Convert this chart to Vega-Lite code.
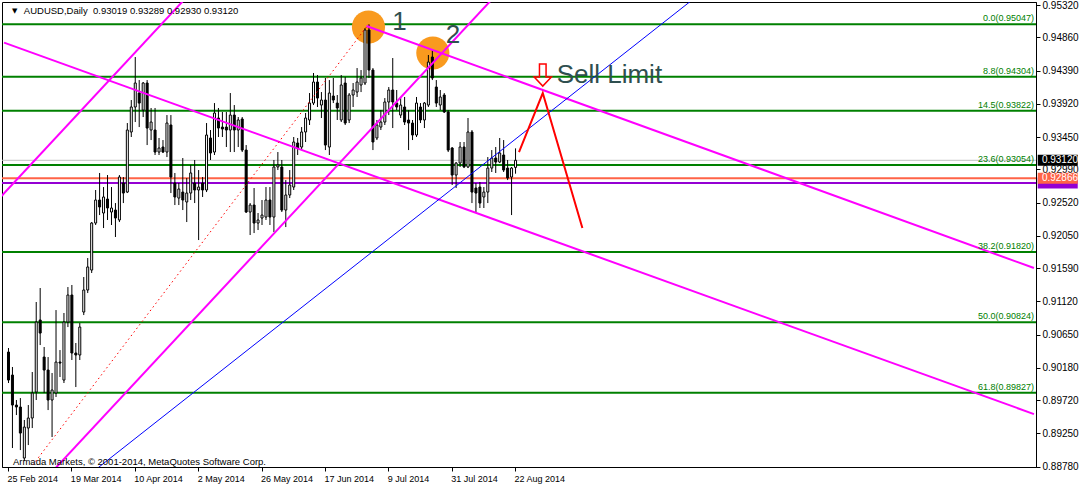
{
  "$schema": "https://vega.github.io/schema/vega-lite/v6.json",
  "width": 1034,
  "height": 465,
  "autosize": {"type": "none"},
  "padding": {"left": 2, "top": 2, "right": 43, "bottom": 22},
  "background": "white",
  "config": {"view": {"stroke": "black", "strokeWidth": 1}, "font": "Liberation Sans", "axis": {"labelOverlap": false, "labelSeparation": 0}},
  "datasets": {
    "candles": [
      {"i":0,"o":0.90403,"h":0.90460,"l":0.89964,"c":0.90006},
      {"i":1,"o":0.90077,"h":0.90191,"l":0.89043,"c":0.89652},
      {"i":2,"o":0.89652,"h":0.89723,"l":0.89510,"c":0.89624},
      {"i":3,"o":0.89624,"h":0.89751,"l":0.89014,"c":0.89255},
      {"i":4,"o":0.88901,"h":0.89440,"l":0.88859,"c":0.89340},
      {"i":5,"o":0.89326,"h":0.89652,"l":0.89085,"c":0.89468},
      {"i":6,"o":0.89468,"h":0.90120,"l":0.89326,"c":0.89822},
      {"i":7,"o":0.89836,"h":0.91112,"l":0.89723,"c":0.90828},
      {"i":8,"o":0.90857,"h":0.91310,"l":0.90502,"c":0.90672},
      {"i":9,"o":0.90332,"h":0.90474,"l":0.89822,"c":0.90148},
      {"i":10,"o":0.90148,"h":0.90332,"l":0.89581,"c":0.89723},
      {"i":11,"o":0.89723,"h":0.90106,"l":0.89199,"c":0.89865},
      {"i":12,"o":0.89822,"h":0.90998,"l":0.89766,"c":0.90261},
      {"i":13,"o":0.90261,"h":0.90431,"l":0.90049,"c":0.90247},
      {"i":14,"o":0.90006,"h":0.90956,"l":0.89964,"c":0.90828},
      {"i":15,"o":0.90828,"h":0.91324,"l":0.90757,"c":0.91211},
      {"i":16,"o":0.91211,"h":0.91353,"l":0.90290,"c":0.90389},
      {"i":17,"o":0.90389,"h":0.90531,"l":0.89907,"c":0.90361},
      {"i":18,"o":0.90361,"h":0.90814,"l":0.90290,"c":0.90757},
      {"i":19,"o":0.90970,"h":0.91466,"l":0.90927,"c":0.91282},
      {"i":20,"o":0.91282,"h":0.91735,"l":0.91239,"c":0.91608},
      {"i":21,"o":0.91565,"h":0.92245,"l":0.91523,"c":0.92231},
      {"i":22,"o":0.92231,"h":0.92699,"l":0.92203,"c":0.92557},
      {"i":23,"o":0.92557,"h":0.92940,"l":0.92344,"c":0.92458},
      {"i":24,"o":0.92373,"h":0.92741,"l":0.92160,"c":0.92600},
      {"i":25,"o":0.92571,"h":0.92911,"l":0.92274,"c":0.92444},
      {"i":26,"o":0.92387,"h":0.92741,"l":0.92203,"c":0.92444},
      {"i":27,"o":0.92415,"h":0.92514,"l":0.92033,"c":0.92302},
      {"i":28,"o":0.92274,"h":0.92911,"l":0.92245,"c":0.92883},
      {"i":29,"o":0.92798,"h":0.92883,"l":0.92514,"c":0.92656},
      {"i":30,"o":0.92670,"h":0.93648,"l":0.92656,"c":0.93549},
      {"i":31,"o":0.93521,"h":0.93974,"l":0.93450,"c":0.93875},
      {"i":32,"o":0.93875,"h":0.94583,"l":0.93662,"c":0.94215},
      {"i":33,"o":0.94073,"h":0.94257,"l":0.93591,"c":0.93931},
      {"i":34,"o":0.93832,"h":0.94229,"l":0.93733,"c":0.94215},
      {"i":35,"o":0.94215,"h":0.94257,"l":0.93336,"c":0.93577},
      {"i":36,"o":0.93549,"h":0.93861,"l":0.93407,"c":0.93662},
      {"i":37,"o":0.93549,"h":0.93861,"l":0.93195,"c":0.93237},
      {"i":38,"o":0.93237,"h":0.93436,"l":0.93195,"c":0.93294},
      {"i":39,"o":0.93308,"h":0.93407,"l":0.93223,"c":0.93237},
      {"i":40,"o":0.93237,"h":0.93761,"l":0.93166,"c":0.93648},
      {"i":41,"o":0.93620,"h":0.93761,"l":0.92656,"c":0.92883},
      {"i":42,"o":0.92798,"h":0.92940,"l":0.92486,"c":0.92600},
      {"i":43,"o":0.92585,"h":0.92798,"l":0.92486,"c":0.92713},
      {"i":44,"o":0.92670,"h":0.93152,"l":0.92415,"c":0.92557},
      {"i":45,"o":0.92529,"h":0.92869,"l":0.92245,"c":0.92656},
      {"i":46,"o":0.92656,"h":0.93053,"l":0.92557,"c":0.92940},
      {"i":47,"o":0.92798,"h":0.93124,"l":0.92514,"c":0.92699},
      {"i":48,"o":0.92699,"h":0.92982,"l":0.91990,"c":0.92741},
      {"i":49,"o":0.92798,"h":0.92883,"l":0.92600,"c":0.92699},
      {"i":50,"o":0.92699,"h":0.93648,"l":0.92670,"c":0.93478},
      {"i":51,"o":0.93436,"h":0.93549,"l":0.93124,"c":0.93223},
      {"i":52,"o":0.93237,"h":0.93931,"l":0.93195,"c":0.93790},
      {"i":53,"o":0.93719,"h":0.93861,"l":0.93450,"c":0.93577},
      {"i":54,"o":0.93591,"h":0.93804,"l":0.93450,"c":0.93563},
      {"i":55,"o":0.93591,"h":0.93804,"l":0.93308,"c":0.93549},
      {"i":56,"o":0.93549,"h":0.94073,"l":0.93237,"c":0.93761},
      {"i":57,"o":0.93761,"h":0.93903,"l":0.93237,"c":0.93549},
      {"i":58,"o":0.93549,"h":0.93733,"l":0.93308,"c":0.93691},
      {"i":59,"o":0.93705,"h":0.93733,"l":0.93237,"c":0.93265},
      {"i":60,"o":0.93265,"h":0.93336,"l":0.92373,"c":0.92387},
      {"i":61,"o":0.92387,"h":0.92514,"l":0.92061,"c":0.92486},
      {"i":62,"o":0.92486,"h":0.92727,"l":0.92089,"c":0.92231},
      {"i":63,"o":0.92231,"h":0.92373,"l":0.92132,"c":0.92274},
      {"i":64,"o":0.92302,"h":0.92557,"l":0.92203,"c":0.92344},
      {"i":65,"o":0.92316,"h":0.92741,"l":0.92274,"c":0.92557},
      {"i":66,"o":0.92557,"h":0.92741,"l":0.92203,"c":0.92316},
      {"i":67,"o":0.92316,"h":0.93124,"l":0.92104,"c":0.93025},
      {"i":68,"o":0.93025,"h":0.93237,"l":0.92982,"c":0.93053},
      {"i":69,"o":0.93025,"h":0.93124,"l":0.92387,"c":0.92415},
      {"i":70,"o":0.92415,"h":0.92840,"l":0.92174,"c":0.92628},
      {"i":71,"o":0.92628,"h":0.92982,"l":0.92585,"c":0.92770},
      {"i":72,"o":0.92741,"h":0.93450,"l":0.92699,"c":0.93379},
      {"i":73,"o":0.93365,"h":0.93436,"l":0.93195,"c":0.93294},
      {"i":74,"o":0.93308,"h":0.93591,"l":0.93265,"c":0.93521},
      {"i":75,"o":0.93521,"h":0.93790,"l":0.93379,"c":0.93719},
      {"i":76,"o":0.93691,"h":0.94073,"l":0.93620,"c":0.93931},
      {"i":77,"o":0.93931,"h":0.94357,"l":0.93903,"c":0.94229},
      {"i":78,"o":0.94229,"h":0.94328,"l":0.93875,"c":0.94002},
      {"i":79,"o":0.93903,"h":0.94087,"l":0.93719,"c":0.93974},
      {"i":80,"o":0.93974,"h":0.94286,"l":0.93265,"c":0.93336},
      {"i":81,"o":0.93308,"h":0.94257,"l":0.93195,"c":0.94073},
      {"i":82,"o":0.94031,"h":0.94286,"l":0.93931,"c":0.93974},
      {"i":83,"o":0.93931,"h":0.94045,"l":0.93691,"c":0.93861},
      {"i":84,"o":0.93691,"h":0.94328,"l":0.93662,"c":0.94187},
      {"i":85,"o":0.94215,"h":0.94300,"l":0.93620,"c":0.93648},
      {"i":86,"o":0.93691,"h":0.94073,"l":0.93648,"c":0.94045},
      {"i":87,"o":0.94045,"h":0.94215,"l":0.93875,"c":0.94116},
      {"i":88,"o":0.94087,"h":0.94427,"l":0.94017,"c":0.94229},
      {"i":89,"o":0.94187,"h":0.94399,"l":0.94087,"c":0.94286},
      {"i":90,"o":0.94215,"h":0.94994,"l":0.94187,"c":0.94966},
      {"i":91,"o":0.94966,"h":0.95047,"l":0.94286,"c":0.94399},
      {"i":92,"o":0.94399,"h":0.94427,"l":0.93265,"c":0.93379},
      {"i":93,"o":0.93436,"h":0.93691,"l":0.93407,"c":0.93620},
      {"i":94,"o":0.93591,"h":0.93832,"l":0.93549,"c":0.93662},
      {"i":95,"o":0.93662,"h":0.94002,"l":0.93620,"c":0.93946},
      {"i":96,"o":0.93946,"h":0.94158,"l":0.93761,"c":0.94116},
      {"i":97,"o":0.94116,"h":0.94569,"l":0.93577,"c":0.93946},
      {"i":98,"o":0.93931,"h":0.94116,"l":0.93832,"c":0.93875},
      {"i":99,"o":0.93761,"h":0.94017,"l":0.93719,"c":0.93903},
      {"i":100,"o":0.93875,"h":0.94017,"l":0.93620,"c":0.93662},
      {"i":101,"o":0.93691,"h":0.93832,"l":0.93265,"c":0.93648},
      {"i":102,"o":0.93648,"h":0.93691,"l":0.93407,"c":0.93478},
      {"i":103,"o":0.93478,"h":0.94017,"l":0.93450,"c":0.93931},
      {"i":104,"o":0.93875,"h":0.93931,"l":0.93648,"c":0.93691},
      {"i":105,"o":0.93691,"h":0.93946,"l":0.93577,"c":0.93931},
      {"i":106,"o":0.93903,"h":0.94612,"l":0.93875,"c":0.94512},
      {"i":107,"o":0.94583,"h":0.94682,"l":0.94257,"c":0.94286},
      {"i":108,"o":0.94158,"h":0.94257,"l":0.93875,"c":0.93931},
      {"i":109,"o":0.93903,"h":0.94116,"l":0.93832,"c":0.94017},
      {"i":110,"o":0.94045,"h":0.94073,"l":0.93790,"c":0.93804},
      {"i":111,"o":0.93804,"h":0.93832,"l":0.93237,"c":0.93265},
      {"i":112,"o":0.93294,"h":0.93308,"l":0.92770,"c":0.92911},
      {"i":113,"o":0.92911,"h":0.93095,"l":0.92727,"c":0.93081},
      {"i":114,"o":0.93081,"h":0.93379,"l":0.93025,"c":0.93308},
      {"i":115,"o":0.93308,"h":0.93379,"l":0.93010,"c":0.93025},
      {"i":116,"o":0.93025,"h":0.93719,"l":0.93010,"c":0.93521},
      {"i":117,"o":0.93521,"h":0.93549,"l":0.92514,"c":0.92670},
      {"i":118,"o":0.92727,"h":0.92798,"l":0.92387,"c":0.92656},
      {"i":119,"o":0.92741,"h":0.92812,"l":0.92444,"c":0.92514},
      {"i":120,"o":0.92600,"h":0.92741,"l":0.92444,"c":0.92670},
      {"i":121,"o":0.92670,"h":0.93166,"l":0.92514,"c":0.93010},
      {"i":122,"o":0.93010,"h":0.93265,"l":0.92954,"c":0.93152},
      {"i":123,"o":0.93152,"h":0.93308,"l":0.92940,"c":0.93095},
      {"i":124,"o":0.93095,"h":0.93436,"l":0.93081,"c":0.93223},
      {"i":125,"o":0.93195,"h":0.93407,"l":0.92954,"c":0.92982},
      {"i":126,"o":0.93010,"h":0.93124,"l":0.92840,"c":0.92869},
      {"i":127,"o":0.92883,"h":0.93025,"l":0.92344,"c":0.93010},
      {"i":128,"o":0.93019,"h":0.93289,"l":0.92930,"c":0.93120}
    ],
    "fib": [
      {"p":0.95047,"t":"0.0(0.95047)"},
      {"p":0.94304,"t":"8.8(0.94304)"},
      {"p":0.93822,"t":"14.5(0.93822)"},
      {"p":0.93054,"t":"23.6(0.93054)"},
      {"p":0.91820,"t":"38.2(0.91820)"},
      {"p":0.90824,"t":"50.0(0.90824)"},
      {"p":0.89827,"t":"61.8(0.89827)"}
    ],
    "magenta": [
      {"id":"lowerDown","k":0,"i":-1,"p":0.94788},
      {"id":"lowerDown","k":1,"i":259,"p":0.89524},
      {"id":"upperDown","k":0,"i":90.5,"p":0.95023},
      {"id":"upperDown","k":1,"i":259,"p":0.91593},
      {"id":"upA","k":0,"i":-3.25,"p":0.92517},
      {"id":"upA","k":1,"i":49.1,"p":0.95674},
      {"id":"upB","k":0,"i":6.85,"p":0.88448},
      {"id":"upB","k":1,"i":126.7,"p":0.95674}
    ],
    "blue": [
      {"k":0,"i":15.6,"p":0.88448},
      {"k":1,"i":179.1,"p":0.95674}
    ],
    "fibBase": [
      {"k":0,"i":1.45,"p":0.88448},
      {"k":1,"i":91,"p":0.95047}
    ],
    "path": [
      {"k":0,"i":129,"p":0.93237},
      {"k":1,"i":135,"p":0.94073},
      {"k":2,"i":145,"p":0.92160}
    ]
  },
  "layer": [
    {
      "data": {"name": "fib"},
      "mark": {"type": "rule", "color": "#008000", "strokeWidth": 2},
      "encoding": {
        "y": {"field": "p", "type": "quantitative", "title": null, "scale": {"domain": [0.88774, 0.95363], "nice": false, "zero": false},
          "axis": {"orient": "right", "title": null, "grid": false, "tickCount": 40,
            "values": [0.9532, 0.9486, 0.9439, 0.9392, 0.9345, 0.9299, 0.9252, 0.9205, 0.9159, 0.9112, 0.9065, 0.9018, 0.8972, 0.8925, 0.8878],
            "format": ".5f", "labelFont": "Liberation Sans", "labelFontSize": 10, "labelColor": "black",
            "labelAlign": "left", "labelBaseline": "middle", "labelPadding": 2, "tickSize": 4, "tickColor": "black",
            "domainColor": "black", "labelOverlap": false, "labelFlush": false, "labelSeparation": 0}}
      }
    },
    {
      "data": {"values": [{"p": 0.9312}]},
      "mark": {"type": "rule", "color": "#C0C0C0", "strokeWidth": 1},
      "encoding": {"y": {"field": "p", "type": "quantitative", "title": null, "scale": {"domain": [0.88774, 0.95363], "nice": false, "zero": false}}}
    },
    {
      "data": {"values": [{"p": 0.92866}]},
      "mark": {"type": "rule", "color": "#FF6347", "strokeWidth": 2},
      "encoding": {"y": {"field": "p", "type": "quantitative", "title": null, "scale": {"domain": [0.88774, 0.95363], "nice": false, "zero": false}}}
    },
    {
      "data": {"values": [{"p": 0.92800}]},
      "mark": {"type": "rule", "color": "#9400D3", "strokeWidth": 2},
      "encoding": {"y": {"field": "p", "type": "quantitative", "title": null, "scale": {"domain": [0.88774, 0.95363], "nice": false, "zero": false}}}
    },
    {
      "data": {"values": [{"i": 91, "p": 0.95008, "r": "1"}, {"i": 107.25, "p": 0.94640, "r": "2"}]},
      "mark": {"type": "point", "filled": true, "color": "#F99A1E", "opacity": 1, "size": 1100, "shape": "circle", "strokeWidth": 0},
      "encoding": {
        "x": {"field": "i", "type": "quantitative", "title": null, "scale": {"domain": [-0.25, 258.25], "nice": false, "zero": false}},
        "y": {"field": "p", "type": "quantitative", "title": null, "scale": {"domain": [0.88774, 0.95363], "nice": false, "zero": false}}
      }
    },
    {
      "data": {"name": "candles"},
      "mark": {"type": "rule", "color": "black", "strokeWidth": 1, "xOffset": 0.5},
      "encoding": {
        "x": {"field": "i", "type": "quantitative", "title": null, "scale": {"domain": [-0.25, 258.25], "nice": false, "zero": false},
          "axis": {"title": null, "grid": false, "tickCount": 40, "values": [0, 16, 32, 48, 64, 80, 96, 112, 128],
            "labelExpr": "['25 Feb 2014','19 Mar 2014','10 Apr 2014','2 May 2014','26 May 2014','17 Jun 2014','9 Jul 2014','31 Jul 2014','22 Aug 2014'][round(datum.value/16)]",
            "labelFont": "Liberation Sans", "labelFontSize": 9, "labelColor": "black", "labelAlign": "left", "labelBaseline": "top",
            "labelPadding": 3, "labelOffset": -1, "tickSize": 4, "tickColor": "black", "domainColor": "black",
            "labelOverlap": false, "labelFlush": false, "labelBound": false}},
        "y": {"field": "l", "type": "quantitative", "title": null, "scale": {"domain": [0.88774, 0.95363], "nice": false, "zero": false}},
        "y2": {"field": "h"}
      }
    },
    {
      "data": {"name": "candles"},
      "mark": {"type": "bar", "orient": "vertical", "size": 2, "stroke": "black", "strokeWidth": 1, "xOffset": 0.5, "fillOpacity": 1},
      "encoding": {
        "x": {"field": "i", "type": "quantitative", "title": null, "scale": {"domain": [-0.25, 258.25], "nice": false, "zero": false}},
        "y": {"field": "o", "type": "quantitative", "title": null, "scale": {"domain": [0.88774, 0.95363], "nice": false, "zero": false}},
        "y2": {"field": "c"},
        "fill": {"condition": {"test": "datum.c >= datum.o", "value": "white"}, "value": "black"}
      }
    },
    {
      "data": {"name": "magenta"},
      "mark": {"type": "line", "color": "#FF00FF", "strokeWidth": 2, "clip": true},
      "encoding": {
        "x": {"field": "i", "type": "quantitative", "title": null, "scale": {"domain": [-0.25, 258.25], "nice": false, "zero": false}},
        "y": {"field": "p", "type": "quantitative", "title": null, "scale": {"domain": [0.88774, 0.95363], "nice": false, "zero": false}},
        "detail": {"field": "id"},
        "order": {"field": "k"}
      }
    },
    {
      "data": {"name": "blue"},
      "mark": {"type": "line", "color": "#0000FF", "strokeWidth": 1, "clip": true},
      "encoding": {
        "x": {"field": "i", "type": "quantitative", "title": null, "scale": {"domain": [-0.25, 258.25], "nice": false, "zero": false}},
        "y": {"field": "p", "type": "quantitative", "title": null, "scale": {"domain": [0.88774, 0.95363], "nice": false, "zero": false}},
        "order": {"field": "k"}
      }
    },
    {
      "data": {"name": "fibBase"},
      "mark": {"type": "line", "color": "#FF0000", "strokeWidth": 1, "strokeDash": [1.5, 3], "clip": true},
      "encoding": {
        "x": {"field": "i", "type": "quantitative", "title": null, "scale": {"domain": [-0.25, 258.25], "nice": false, "zero": false}},
        "y": {"field": "p", "type": "quantitative", "title": null, "scale": {"domain": [0.88774, 0.95363], "nice": false, "zero": false}},
        "order": {"field": "k"}
      }
    },
    {
      "data": {"name": "path"},
      "mark": {"type": "line", "color": "#FF0000", "strokeWidth": 2, "clip": true},
      "encoding": {
        "x": {"field": "i", "type": "quantitative", "title": null, "scale": {"domain": [-0.25, 258.25], "nice": false, "zero": false}},
        "y": {"field": "p", "type": "quantitative", "title": null, "scale": {"domain": [0.88774, 0.95363], "nice": false, "zero": false}},
        "order": {"field": "k"}
      }
    },
    {
      "data": {"values": [{"i": 135, "p": 0.94328}]},
      "mark": {"type": "point", "filled": false, "stroke": "#FF0000", "strokeWidth": 1.5, "opacity": 1, "size": 484,
        "shape": "M-0.3,-1 L0.3,-1 L0.3,0.18 L0.78,0.18 L0,1 L-0.78,0.18 L-0.3,0.18 Z"},
      "encoding": {
        "x": {"field": "i", "type": "quantitative", "title": null, "scale": {"domain": [-0.25, 258.25], "nice": false, "zero": false}},
        "y": {"field": "p", "type": "quantitative", "title": null, "scale": {"domain": [0.88774, 0.95363], "nice": false, "zero": false}}
      }
    },
    {
      "data": {"values": [
        {"i": 97, "p": 0.94966, "t": "1"},
        {"i": 110.5, "p": 0.94782, "t": "2"},
        {"i": 138.5, "p": 0.94215, "t": "Sell Limit"}
      ]},
      "mark": {"type": "text", "align": "left", "baseline": "alphabetic", "font": "Liberation Sans", "fontSize": 26, "color": "#2F4F4F"},
      "encoding": {
        "x": {"field": "i", "type": "quantitative", "title": null, "scale": {"domain": [-0.25, 258.25], "nice": false, "zero": false}},
        "y": {"field": "p", "type": "quantitative", "title": null, "scale": {"domain": [0.88774, 0.95363], "nice": false, "zero": false}},
        "text": {"field": "t"}
      }
    },
    {
      "data": {"name": "fib"},
      "mark": {"type": "text", "align": "right", "baseline": "bottom", "dy": -1, "dx": 4, "font": "Liberation Sans", "fontSize": 9, "color": "#008000"},
      "encoding": {
        "x": {"datum": 258, "type": "quantitative", "title": null, "scale": {"domain": [-0.25, 258.25], "nice": false, "zero": false}},
        "y": {"field": "p", "type": "quantitative", "title": null, "scale": {"domain": [0.88774, 0.95363], "nice": false, "zero": false}},
        "text": {"field": "t"}
      }
    },
    {
      "data": {"values": [
        {"i": 4, "p": 0.95193, "t": "AUDUSD,Daily\u00a0 0.93019 0.93289 0.92930 0.93120"},
        {"i": 1.25, "p": 0.88802, "t": "Armada Markets, © 2001-2014, MetaQuotes Software Corp."}
      ]},
      "mark": {"type": "text", "align": "left", "baseline": "alphabetic", "font": "Liberation Sans", "fontSize": 9.5, "color": "black"},
      "encoding": {
        "x": {"field": "i", "type": "quantitative", "title": null, "scale": {"domain": [-0.25, 258.25], "nice": false, "zero": false}},
        "y": {"field": "p", "type": "quantitative", "title": null, "scale": {"domain": [0.88774, 0.95363], "nice": false, "zero": false}},
        "text": {"field": "t"}
      }
    },
    {
      "data": {"values": [{"i": 1, "p": 0.95207, "t": "▼"}]},
      "mark": {"type": "text", "align": "left", "baseline": "alphabetic", "font": "DejaVu Sans", "fontSize": 7, "color": "black"},
      "encoding": {
        "x": {"field": "i", "type": "quantitative", "title": null, "scale": {"domain": [-0.25, 258.25], "nice": false, "zero": false}},
        "y": {"field": "p", "type": "quantitative", "title": null, "scale": {"domain": [0.88774, 0.95363], "nice": false, "zero": false}},
        "text": {"field": "t"}
      }
    },
    {
      "data": {"values": [{"i": 265, "p": 0.92800}]},
      "mark": {"type": "point", "filled": true, "color": "#9400D3", "opacity": 1, "size": 1600, "strokeWidth": 0, "clip": false,
        "shape": "M-1,-0.275H1V0.275H-1Z"},
      "encoding": {
        "x": {"field": "i", "type": "quantitative", "title": null, "scale": {"domain": [-0.25, 258.25], "nice": false, "zero": false}},
        "y": {"field": "p", "type": "quantitative", "title": null, "scale": {"domain": [0.88774, 0.95363], "nice": false, "zero": false}}
      }
    },
    {
      "data": {"values": [{"i": 265, "p": 0.92866}]},
      "mark": {"type": "point", "filled": true, "color": "#FF6347", "opacity": 1, "size": 1600, "strokeWidth": 0, "clip": false,
        "shape": "M-1,-0.275H1V0.275H-1Z"},
      "encoding": {
        "x": {"field": "i", "type": "quantitative", "title": null, "scale": {"domain": [-0.25, 258.25], "nice": false, "zero": false}},
        "y": {"field": "p", "type": "quantitative", "title": null, "scale": {"domain": [0.88774, 0.95363], "nice": false, "zero": false}}
      }
    },
    {
      "data": {"values": [{"i": 265, "p": 0.93120}]},
      "mark": {"type": "point", "filled": true, "color": "black", "opacity": 1, "size": 1600, "strokeWidth": 0, "clip": false,
        "shape": "M-1,-0.275H1V0.275H-1Z"},
      "encoding": {
        "x": {"field": "i", "type": "quantitative", "title": null, "scale": {"domain": [-0.25, 258.25], "nice": false, "zero": false}},
        "y": {"field": "p", "type": "quantitative", "title": null, "scale": {"domain": [0.88774, 0.95363], "nice": false, "zero": false}}
      }
    },
    {
      "data": {"values": [{"i": 261, "p": 0.93120, "t": "0.93120"}, {"i": 261, "p": 0.92866, "t": "0.92866"}]},
      "mark": {"type": "text", "align": "left", "baseline": "middle", "font": "Liberation Sans", "fontSize": 10, "color": "white", "clip": false},
      "encoding": {
        "x": {"field": "i", "type": "quantitative", "title": null, "scale": {"domain": [-0.25, 258.25], "nice": false, "zero": false}},
        "y": {"field": "p", "type": "quantitative", "title": null, "scale": {"domain": [0.88774, 0.95363], "nice": false, "zero": false}},
        "text": {"field": "t"}
      }
    }
  ]
}
